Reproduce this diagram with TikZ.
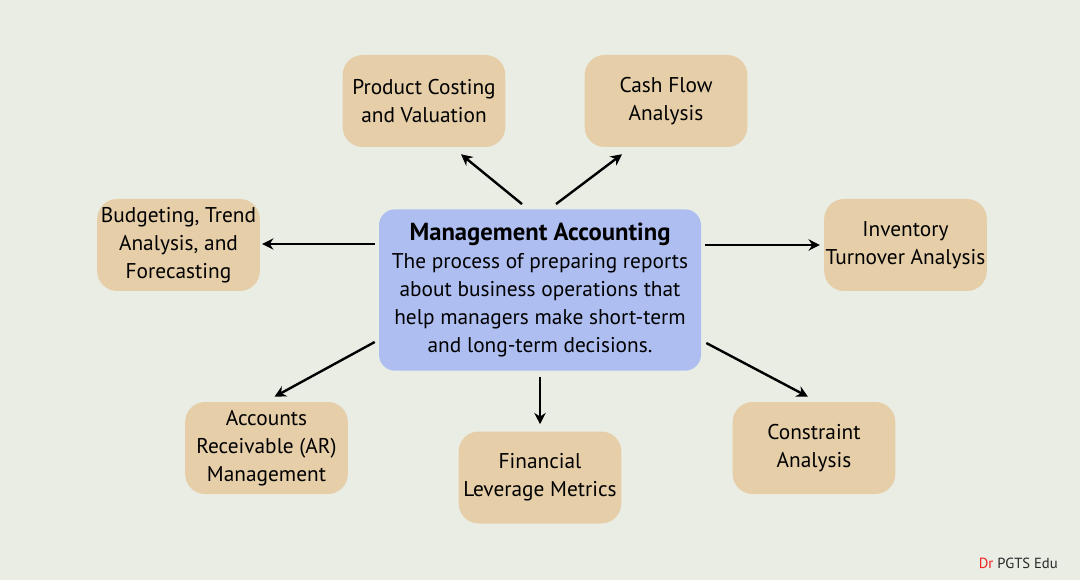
\documentclass[tikz,border=0pt]{standalone}
\usepackage{fontspec}
\setmainfont{PT Sans}
\usetikzlibrary{arrows.meta,calc}
\definecolor{bgc}{HTML}{EAEDE4}
\definecolor{tanc}{HTML}{E5CEA8}
\definecolor{bluec}{HTML}{AEBEF0}
\definecolor{drred}{HTML}{F02020}
\begin{document}
\begin{tikzpicture}[x=0.75pt,y=-0.75pt,
  box/.style={fill=tanc,draw=none,rounded corners=15pt,minimum width=122pt,minimum height=69pt,
    align=center,inner sep=0pt,font=\fontsize{16}{21}\selectfont},
  mainbox/.style={fill=bluec,draw=none,rounded corners=12pt,minimum width=241.5pt,minimum height=121pt,
    align=center,inner sep=0pt,font=\fontsize{16}{21}\selectfont},
  arr/.style={line width=1.8pt,-{Stealth[length=8.5pt,width=8.5pt]}}]
\fill[bgc] (0,0) rectangle (1080,580);
\useasboundingbox (0,0) rectangle (1080,580);

\node[mainbox] (c) at (540,290) {{\fontsize{18.5}{22}\selectfont\bfseries Management Accounting}\\[0.5pt]
The process of preparing reports\\ about business operations that\\ help managers make short-term\\ and long-term decisions.};

\node[box] (pc) at (424,101) {Product Costing\\ and Valuation};
\node[box] (cf) at (666,101) {Cash Flow\\ Analysis};
\node[box] (bt) at (178.5,245) {Budgeting, Trend\\ Analysis, and\\ Forecasting};
\node[box] (it) at (905.5,245) {Inventory\\ Turnover Analysis};
\node[box] (ar) at (266.5,448) {Accounts\\ Receivable (AR)\\ Management};
\node[box] (fl) at (540,477.5) {Financial\\ Leverage Metrics};
\node[box] (ca) at (814,448) {Constraint\\ Analysis};

\draw[arr] ($(c.north)+(-18,-5)$) -- ($(pc.south)+(37,7)$);
\draw[arr] ($(c.north)+(16,-5)$) -- ($(cf.south)+(-44,7)$);
\draw[arr] ($(c.west)+(-4,-46)$) -- ($(bt.east)+(2,-1)$);
\draw[arr] ($(c.east)+(4,-45)$) -- ($(it.west)+(-4,0)$);
\draw[arr] ($(c.west)+(-4,52)$) -- ($(ar.north)+(8,-5)$);
\draw[arr] ($(c.south)+(0,6)$) -- ($(fl.north)+(0,-7)$);
\draw[arr] ($(c.east)+(5,53)$) -- ($(ca.north)+(-6,-5)$);

\node[font=\fontsize{11}{12}\selectfont,anchor=east,inner sep=0pt] (wm) at (1058,563)
  {\textcolor{drred}{Dr} \textcolor{black!85}{PGTS Edu}};
\end{tikzpicture}
\end{document}
